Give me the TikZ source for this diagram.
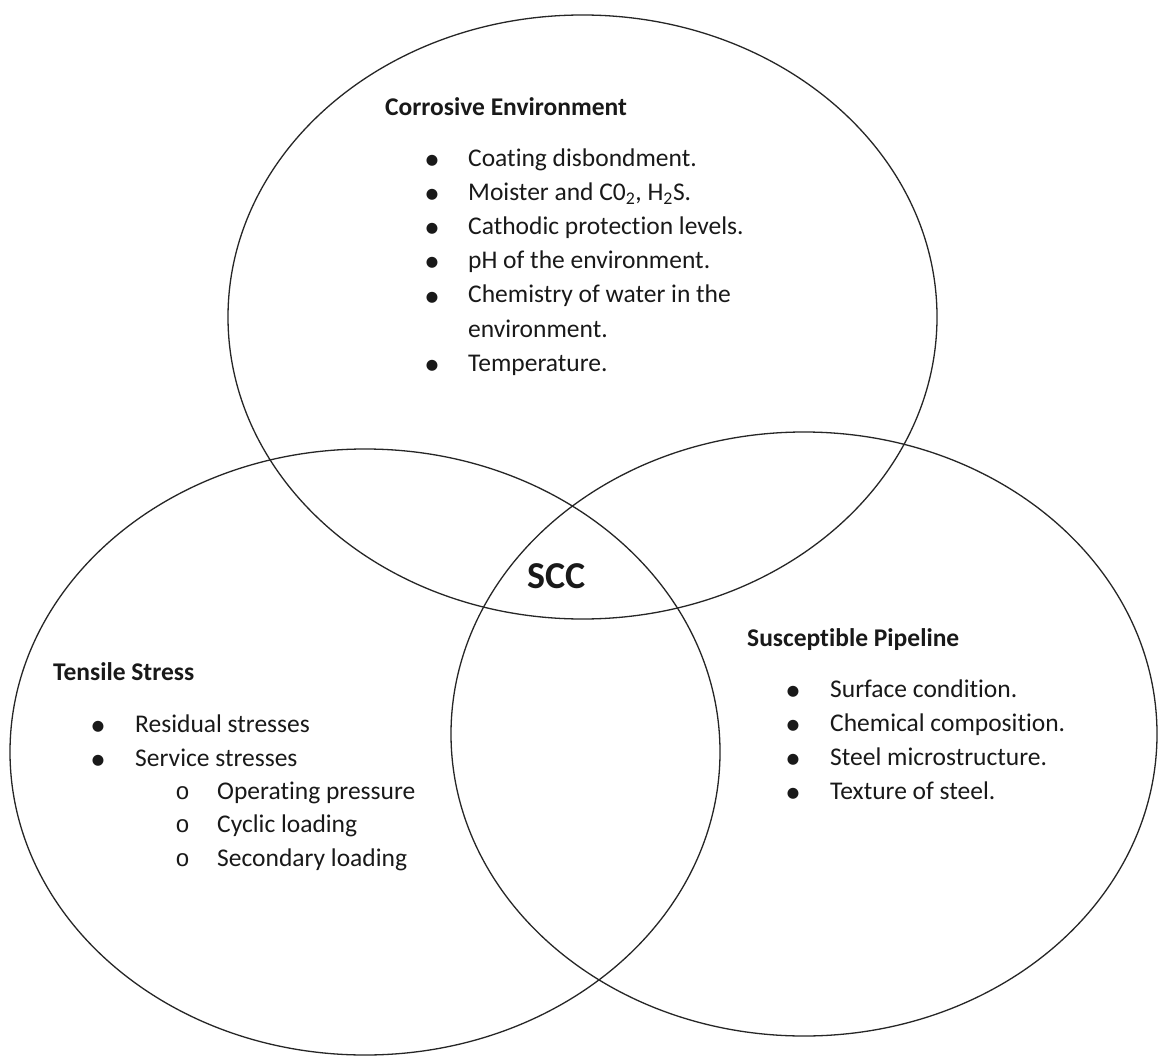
\documentclass[tikz,border=0pt]{standalone}
\usepackage{fontspec}
\setmainfont[Ligatures=NoCommon]{Carlito}
\newfontfamily\monofam{Liberation Mono}
\begin{document}
\begin{tikzpicture}[x=1pt,y=-1pt,
  venn/.style={draw=black!85, line width=1.3pt},
  txt/.style={anchor=base west, inner sep=0pt, font=\fontsize{25.5}{30}\selectfont, text=black!90},
  ttl/.style={txt, font=\fontsize{25.5}{30}\selectfont\bfseries},
  bul/.style={anchor=base, inner sep=0pt, font=\fontsize{31}{36}\selectfont, text=black!90},
  subbul/.style={anchor=base, inner sep=0pt, font=\fontsize{24}{28}\monofam, text=black!90}]
\useasboundingbox (0,0) rectangle (1158,1056);
\fill[white] (0,0) rectangle (1158,1056);
% ellipses
\draw[venn] (582.5,317) ellipse [x radius=354.5, y radius=302];
\draw[venn] (365,752) ellipse [x radius=355, y radius=303];
\draw[venn] (804,734) ellipse [x radius=353, y radius=302];
% Corrosive Environment
\node[ttl] (ce) at (385,116) {Corrosive Environment};
\foreach \t/\yy [count=\i] in {Coating disbondment./167, {Moister and C0\textsubscript{2}, H\textsubscript{2}S.}/201, Cathodic protection levels./235, pH of the environment./269, Chemistry of water in the/303, Temperature./371}{
  \node[bul] (ceb\i) at (432,\yy+3) {•};
  \node[txt] (cet\i) at (468,\yy) {\t};
}
\node[txt] (cet5b) at (468,337) {environment.};
% SCC
\node[anchor=base west, inner sep=0pt, font=\fontsize{38}{44}\selectfont\bfseries, text=black!90] (scc) at (527,588) {SCC};
% Tensile Stress
\node[ttl] (ts) at (53,680) {Tensile Stress};
\node[bul] (tsb1) at (98,735) {•};
\node[txt] (tst1) at (135,732) {Residual stresses};
\node[bul] (tsb2) at (98,769) {•};
\node[txt] (tst2) at (135,766) {Service stresses};
\foreach \t/\yy [count=\i] in {Operating pressure/799, Cyclic loading/832, Secondary loading/866}{
  \node[subbul] (tss\i) at (182.5,\yy) {o};
  \node[txt] (tsst\i) at (217,\yy) {\t};
}
% Susceptible Pipeline
\node[ttl] (sp) at (747,646) {Susceptible Pipeline};
\foreach \t/\yy [count=\i] in {Surface condition./697, Chemical composition./731, Steel microstructure./765, Texture of steel./799}{
  \node[bul] (spb\i) at (793,\yy+3) {•};
  \node[txt] (spt\i) at (830,\yy) {\t};
}
\end{tikzpicture}
\end{document}
